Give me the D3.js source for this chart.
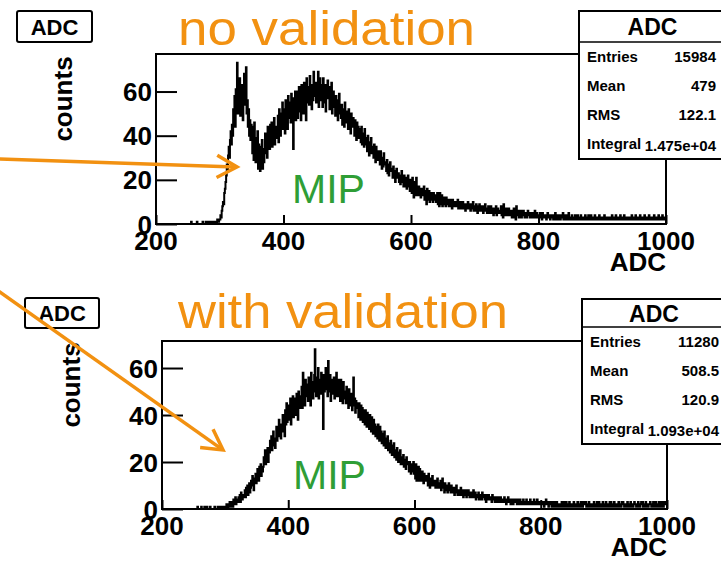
<!DOCTYPE html>
<html>
<head>
<meta charset="utf-8">
<script src="https://cdn.jsdelivr.net/npm/d3@7"></script>
<style>
  body { margin: 0; background: #fff; }
  svg { display: block; }
  text { font-family: "Liberation Sans", Arial, Helvetica, sans-serif; }
</style>
</head>
<body>
<svg id="chart" width="721" height="561"></svg>
<script>
// ADC spectra, 1-count wide bins from 200 to 1000 (one row = 10 bins)
const adcRange = [200, 1000];
const xTickValues = [200, 400, 600, 800, 1000];
const yTickValues = [0, 20, 40, 60];

const countsNoValidation = [
  0,0,0,0,0,0,0,0,0,0, 0,0,0,0,0,0,0,0,0,0, 0,0,0,0,0,0,0,0,0,0, 0,0,0,0,0,0,0,0,0,0, 0,0,0,0,0,0,0,0,0,0,
  0,0,0,0,0,1,0,0,0,0, 0,0,0,0,1,0,0,0,0,0, 0,0,0,1,0,0,0,0,1,0, 0,0,1,0,0,1,0,0,0,1, 0,1,0,1,1,0,2,1,1,2,
  2,4,3,6,8,10,9,14,16,19,
  22,27,24,31,35,30,38,42,36,45,
  40,52,47,58,44,61,55,73,50,64,
  52,66,49,60,55,63,47,58,68,54,
  62,71,50,56,44,52,40,47,38,45,
  44,32,40,29,46,35,28,39,31,42,
  25,36,29,24,35,27,38,25,34,28,
  32,41,35,38,30,44,37,42,34,45,
  38,46,35,43,40,48,36,44,39,42,
  41,49,37,52,44,40,50,46,55,43,
  45,52,41,56,47,50,43,58,48,53,
  55,46,59,49,53,34,57,50,60,47,
  52,60,48,57,62,51,55,47,63,56,
  58,50,64,53,60,47,66,55,59,62,
  54,67,57,63,52,60,56,69,58,61,
  64,55,62,57,69,53,60,66,56,63,
  60,53,66,58,55,63,51,61,57,65,
  58,62,52,59,54,64,50,57,60,53,
  55,49,58,51,56,47,54,59,50,52,
  48,54,45,52,50,44,55,47,51,46,
  49,43,52,45,47,41,50,46,44,48,
  45,40,47,42,38,46,41,44,39,43,
  42,37,44,36,41,38,35,43,39,36,
  38,33,40,35,31,37,34,39,32,35,
  34,30,36,31,28,35,32,29,33,30,
  31,27,33,28,25,30,26,32,28,27,
  28,24,29,23,27,22,26,28,24,25,
  25,21,26,22,24,19,23,25,21,22,
  23,19,22,18,21,24,19,20,17,22,
  20,17,21,16,19,22,17,18,15,20,
  20,14,21,15,12,19,17,13,21,14,
  16,13,17,14,15,12,16,14,13,15,
  17,11,15,13,9,16,12,11,15,10,
  12,14,11,13,10,14,12,11,13,10,
  11,14,9,13,8,14,10,9,13,8,
  10,12,9,11,8,12,10,9,11,8,
  9,11,8,10,7,11,9,8,10,9,
  10,8,9,11,7,9,8,10,7,9,
  8,10,7,9,8,6,9,8,7,10,
  7,9,8,6,9,7,8,10,6,8,
  8,6,9,7,5,8,7,9,6,7,
  7,8,6,5,8,7,9,6,7,5,
  6,8,5,7,6,8,5,7,6,4,
  7,5,6,8,4,6,7,5,6,5,
  5,8,4,6,3,9,6,4,5,7,
  6,4,5,7,5,4,6,5,3,6,
  5,7,3,5,2,8,5,4,6,3,
  4,5,6,3,5,4,6,4,3,5,
  5,3,4,6,4,5,3,5,4,3,
  4,5,3,4,6,3,4,5,3,4,
  3,4,5,3,4,2,5,3,4,3,
  4,3,2,4,5,3,3,4,2,4,
  3,4,3,2,4,3,5,2,3,4,
  2,3,4,3,2,4,3,3,5,2,
  4,2,3,3,4,2,3,5,2,3,
  3,2,4,2,3,3,2,4,3,2,
  2,4,3,2,3,2,4,3,2,3,
  3,2,2,4,3,3,2,3,4,2,
  2,3,4,2,2,3,3,2,4,3,
  3,2,3,3,2,4,2,3,2,3,
  2,3,2,4,3,2,2,3,3,2,
  3,2,3,2,2,4,3,2,3,2,
  2,4,2,3,2,3,2,2,4,3,
  3,2,3,2,4,2,3,2,2,3,
  2,3,2,3,2,3,4,2,3,2,
  3,2,4,2,3,2,2,3,2,4,
  2,3,2,3,3,2,4,2,3,2,
  3,2,2,4,2,3,2,3,2,3,
  2,4,3,2,3,2,3,2,4,2,
  3,2,3,2,4,3,2,3,2,3
];

const countsWithValidation = [
  0,0,0,0,0,0,0,0,0,0, 0,0,0,0,0,0,0,0,0,0, 0,0,0,0,0,0,0,0,0,0, 0,0,0,0,0,0,0,0,0,0, 0,0,0,0,0,0,0,0,0,0,
  0,0,0,0,0,0,1,0,0,0, 0,0,1,0,0,0,0,1,0,0, 0,1,0,0,0,0,1,0,0,0, 0,0,0,1,0,0,0,0,1,0, 1,0,0,0,1,0,1,0,0,1,
  0,1,2,1,0,2,1,3,1,2,
  2,3,1,4,2,3,5,2,4,3,
  3,5,4,6,3,7,5,4,6,5,
  6,8,5,9,7,10,6,8,11,7,
  9,12,10,14,11,8,13,12,15,11,
  13,17,14,12,18,15,19,14,17,16,
  18,22,20,25,19,23,21,26,20,24,
  24,29,26,31,25,28,33,27,30,26,
  30,35,29,34,31,38,32,36,30,35,
  33,40,35,38,31,42,36,45,37,40,
  38,44,40,47,36,43,41,48,39,45,
  42,47,40,49,44,38,50,45,43,48,
  45,52,43,58,47,50,44,55,48,51,
  53,46,56,48,51,44,58,49,54,47,
  50,57,68,52,48,56,51,60,47,55,
  53,49,58,52,55,34,57,50,54,60,
  51,56,48,63,53,50,57,46,55,52,
  54,49,56,47,53,50,58,48,52,55,
  48,53,46,55,49,51,45,54,50,47,
  50,45,52,46,49,43,51,47,44,49,
  46,42,48,56,44,47,41,46,43,45,
  43,39,45,41,38,44,40,43,37,42,
  40,36,42,38,35,41,37,39,34,40,
  37,33,39,35,32,38,34,36,31,35,
  34,30,36,31,29,35,32,33,28,32,
  31,27,33,28,26,30,29,31,25,28,
  28,24,29,25,23,27,26,28,22,25,
  25,21,26,22,20,24,23,25,19,22,
  22,19,23,18,20,21,17,22,19,20,
  19,16,20,17,15,19,18,16,20,15,
  18,13,19,12,16,15,18,12,17,14,
  15,12,16,13,11,15,14,12,13,14,
  14,10,15,12,9,13,12,10,14,10,
  12,10,11,9,12,10,13,9,11,10,
  9,12,8,10,13,9,10,7,11,9,
  8,10,7,9,11,8,9,7,10,8,
  7,9,8,6,9,7,10,8,6,8,
  8,6,7,9,6,8,7,5,8,7,
  6,8,5,7,6,8,7,5,7,6,
  7,5,6,8,5,6,7,4,6,5,
  5,7,4,6,5,6,4,7,5,6,
  6,4,5,3,6,5,4,6,5,4,
  4,5,3,6,4,5,4,3,5,4,
  5,3,4,5,3,4,5,3,4,3,
  3,4,5,3,4,2,4,3,5,3,
  4,3,2,4,3,4,2,3,4,3,
  3,4,2,3,4,2,3,4,2,3,
  2,3,4,2,3,3,2,4,3,2,
  3,2,3,4,2,3,2,3,2,4,
  2,3,2,3,4,2,3,2,3,2,
  3,2,2,3,2,1,3,2,4,2,
  2,3,1,2,3,2,2,1,3,2,
  1,2,3,2,1,3,2,2,1,2,
  2,1,2,3,2,1,2,3,2,1,
  3,2,1,2,2,3,1,2,2,1,
  2,1,3,2,1,2,2,1,3,2,
  1,2,2,3,1,2,1,3,2,2,
  2,3,1,2,2,1,3,2,1,2,
  1,2,2,1,3,2,2,1,2,3,
  2,1,3,2,1,2,1,2,3,1,
  2,2,1,3,2,1,2,2,1,3,
  1,3,2,1,2,2,3,1,2,2,
  2,1,2,3,1,2,2,1,3,2,
  3,2,1,2,2,1,2,3,1,2,
  1,2,3,1,2,2,1,2,3,2,
  2,1,2,2,3,1,2,1,2,3,
  2,3,1,2,1,2,3,2,1,2,
  1,2,2,3,2,1,2,2,3,1,
  2,1,3,2,2,1,2,3,1,2,
  2,3,1,2,1,3,2,2,3,2
];

const statsNoValidation = [["Entries", "15984"], ["Mean", "479"], ["RMS", "122.1"], ["Integral", "1.475e+04"]];
const statsWithValidation = [["Entries", "11280"], ["Mean", "508.5"], ["RMS", "120.9"], ["Integral", "1.093e+04"]];

const histName = "ADC";
const xAxisTitle = "ADC";
const yAxisTitle = "counts";
const panelTitles = ["no validation", "with validation"];
const peakLabel = "MIP";

const ORANGE = "#f29111";
const GREEN = "#2f9e36";

const svg = d3.select("#chart");

const panels = [
  {
    counts: countsNoValidation, stats: statsNoValidation, title: panelTitles[0],
    frame: { l: 156, r: 666, t: 54, b: 224 }, yMax: 77,
    nameBox: { x: 17, y: 11, w: 75, h: 31 },
    statBox: { x: 579, y: 11, w: 147, head: 31, h: 148 },
    yTitleX: 72, yTitleY: 99,
    titlePos: { x: 178, y: 45, len: 297 },
    mipPos: { x: 292, y: 203 },
    arrow: { from: [-3, 159], to: [237, 167] }
  },
  {
    counts: countsWithValidation, stats: statsWithValidation, title: panelTitles[1],
    frame: { l: 162, r: 667, t: 341, b: 509 }, yMax: 71.5,
    nameBox: { x: 25, y: 298, w: 74, h: 30 },
    statBox: { x: 582, y: 299, w: 144, head: 28, h: 145 },
    yTitleX: 80, yTitleY: 385,
    titlePos: { x: 178, y: 328, len: 330 },
    mipPos: { x: 293, y: 489 },
    arrow: { from: [-3, 290], to: [223, 450] }
  }
];

panels.forEach((p, idx) => {
  const f = p.frame;
  const g = svg.append("g");

  const x = d3.scaleLinear().domain(adcRange).range([f.l, f.r]);
  const y = d3.scaleLinear().domain([0, p.yMax]).range([f.b, f.t]);

  const nBins = p.counts.length;
  const bw = (adcRange[1] - adcRange[0]) / nBins;
  const pts = p.counts.map((c, i) => [adcRange[0] + i * bw, c]);
  pts.push([adcRange[1], p.counts[nBins - 1]]);

  const clipId = "clip" + idx;
  svg.append("clipPath").attr("id", clipId)
    .append("rect").attr("x", f.l).attr("y", f.t).attr("width", f.r - f.l).attr("height", f.b - f.t);

  // histogram outline
  g.append("path")
    .attr("clip-path", `url(#${clipId})`)
    .attr("d", d3.line().x(d => x(d[0])).y(d => y(d[1])).curve(d3.curveStepAfter)(pts))
    .attr("fill", "none")
    .attr("stroke", "#000")
    .attr("stroke-width", 2)
    .attr("stroke-linejoin", "miter");

  // y axis: ticks pointing into the frame
  const yAxis = d3.axisRight(y).tickValues(yTickValues).tickSize(21).tickFormat("");
  g.append("g").attr("transform", `translate(${f.l},0)`).call(yAxis)
    .call(s => s.select(".domain").remove())
    .call(s => s.selectAll("line").attr("stroke", "#000").attr("stroke-width", 2));
  g.selectAll(".ylab").data(yTickValues).join("text")
    .attr("x", f.l - 4).attr("y", d => y(d) + 9.5)
    .attr("text-anchor", "end").attr("font-size", 26).attr("font-weight", "bold")
    .text(d => d);

  // x axis: ticks pointing up
  const xAxis = d3.axisTop(x).tickValues(xTickValues).tickSize(9).tickFormat("");
  g.append("g").attr("transform", `translate(0,${f.b})`).call(xAxis)
    .call(s => s.select(".domain").remove())
    .call(s => s.selectAll("line").attr("stroke", "#000").attr("stroke-width", 2));
  g.selectAll(".xlab").data(xTickValues).join("text")
    .attr("x", d => x(d)).attr("y", f.b + 26)
    .attr("text-anchor", "middle").attr("font-size", 26).attr("font-weight", "bold")
    .text(d => d);

  // frame
  g.append("rect").attr("x", f.l).attr("y", f.t).attr("width", f.r - f.l).attr("height", f.b - f.t)
    .attr("fill", "none").attr("stroke", "#000").attr("stroke-width", 2);

  // axis titles
  g.append("text").attr("x", f.r).attr("y", f.b + 47)
    .attr("text-anchor", "end").attr("font-size", 26).attr("font-weight", "bold").text(xAxisTitle);
  g.append("text").attr("transform", `translate(${p.yTitleX},${p.yTitleY}) rotate(-90)`)
    .attr("text-anchor", "middle").attr("font-size", 26).attr("font-weight", "bold").text(yAxisTitle);

  // histogram name box
  const nb = p.nameBox;
  g.append("rect").attr("x", nb.x).attr("y", nb.y).attr("width", nb.w).attr("height", nb.h)
    .attr("rx", 2).attr("fill", "#fff").attr("stroke", "#000").attr("stroke-width", 2);
  g.append("text").attr("x", nb.x + nb.w / 2).attr("y", nb.y + nb.h / 2 + 8)
    .attr("text-anchor", "middle").attr("font-size", 22).attr("font-weight", "bold").text(histName);

  // statistics box
  const sb = p.statBox;
  g.append("rect").attr("x", sb.x).attr("y", sb.y).attr("width", sb.w).attr("height", sb.h)
    .attr("fill", "#fff").attr("stroke", "#000").attr("stroke-width", 2);
  g.append("line").attr("x1", sb.x).attr("x2", sb.x + sb.w).attr("y1", sb.y + sb.head).attr("y2", sb.y + sb.head)
    .attr("stroke", "#000").attr("stroke-width", 1.5);
  g.append("text").attr("x", sb.x + sb.w / 2).attr("y", sb.y + sb.head / 2 + 8.5)
    .attr("text-anchor", "middle").attr("font-size", 23).attr("font-weight", "bold").text(histName);
  const rowH = (sb.h - sb.head) / p.stats.length;
  p.stats.forEach((r, i) => {
    const cy = sb.y + sb.head + rowH * (i + 0.5);
    g.append("text").attr("x", sb.x + 8).attr("y", cy + 5)
      .attr("font-size", 15).attr("font-weight", "bold").text(r[0]);
    g.append("text").attr("x", sb.x + 137).attr("y", cy + (i === 3 ? 7 : 5))
      .attr("text-anchor", "end").attr("font-size", 15).attr("font-weight", "bold").text(r[1]);
  });

  // panel title
  g.append("text").attr("x", p.titlePos.x).attr("y", p.titlePos.y)
    .attr("font-size", 48).attr("fill", ORANGE)
    .attr("textLength", p.titlePos.len).attr("lengthAdjust", "spacingAndGlyphs")
    .text(p.title);

  // peak label
  g.append("text").attr("x", p.mipPos.x).attr("y", p.mipPos.y)
    .attr("font-size", 41).attr("fill", GREEN).text(peakLabel);

  // annotation arrow
  const a = p.arrow;
  const ang = Math.atan2(a.to[1] - a.from[1], a.to[0] - a.from[0]);
  const hl = 23, ha = Math.PI / 6.2;
  const w1 = [a.to[0] - hl * Math.cos(ang - ha), a.to[1] - hl * Math.sin(ang - ha)];
  const w2 = [a.to[0] - hl * Math.cos(ang + ha), a.to[1] - hl * Math.sin(ang + ha)];
  g.append("line").attr("x1", a.from[0]).attr("y1", a.from[1]).attr("x2", a.to[0] - 2 * Math.cos(ang)).attr("y2", a.to[1] - 2 * Math.sin(ang))
    .attr("stroke", ORANGE).attr("stroke-width", 3.5);
  g.append("path").attr("d", `M${w1[0]},${w1[1]}L${a.to[0]},${a.to[1]}L${w2[0]},${w2[1]}`)
    .attr("fill", "none").attr("stroke", ORANGE).attr("stroke-width", 3.5)
    .attr("stroke-linejoin", "miter").attr("stroke-linecap", "butt");
});
</script>
</body>
</html>
